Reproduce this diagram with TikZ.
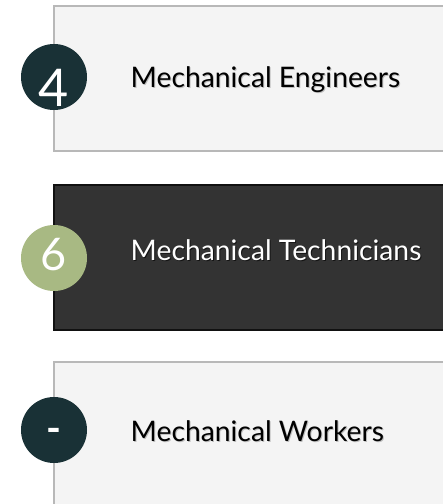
\documentclass[tikz,border=0pt]{standalone}
\usepackage{fontspec}
\setmainfont{Lato}
\definecolor{lightfill}{HTML}{F4F4F4}
\definecolor{lightedge}{HTML}{B8B8B8}
\definecolor{darkfill}{HTML}{333333}
\definecolor{darkedge}{HTML}{111111}
\definecolor{teal}{HTML}{193136}
\definecolor{sage}{HTML}{A8B983}
\tikzset{
  lightbox/.style={draw=lightedge, fill=lightfill, line width=2pt, rectangle, anchor=north west, inner sep=0pt, minimum width=420pt},
  darkbox/.style={draw=darkedge, fill=darkfill, line width=2pt, rectangle, anchor=north west, inner sep=0pt, minimum width=420pt},
  badge/.style={circle, inner sep=0pt, minimum size=66pt},
  digit/.style={text=white, inner sep=0pt, anchor=base},
  label/.style={inner sep=0pt, anchor=base west, font=\fontsize{28.3}{31}\selectfont},
}
\begin{document}
\begin{tikzpicture}[x=1pt,y=-1pt]
\useasboundingbox (0,0) rectangle (443,504);
\clip (0,0) rectangle (443,504);
\fill[white] (0,0) rectangle (443,504);
% boxes
\node[lightbox, minimum height=145pt] (box1) at (53,5) {};
\node[darkbox, minimum height=145pt] (box2) at (53,183.5) {};
\node[lightbox, minimum height=180pt] (box3) at (53,361) {};
% badges
\node[badge, fill=teal] (c1) at (54,77) {};
\node[badge, fill=sage] (c2) at (54,258) {};
\node[badge, fill=teal] (c3) at (54,430) {};
\node[digit, font=\fontsize{52}{56}\selectfont] (d1) at (54,106) {4};
\node[digit, font=\fontsize{45}{50}\selectfont] (d2) at (54,270) {6};
\node[digit, font=\fontsize{40}{44}\selectfont\bfseries] (d3) at (54,442) {-};
% labels with soft shadows
\node[label, text=black!40, opacity=0.6] (s1) at (131.5,88) {Mechanical Engineers};
\node[label, text=black] (t1) at (130.5,87) {Mechanical Engineers};
\node[label, text=black, opacity=0.6] (s2) at (131.5,261) {Mechanical Technicians};
\node[label, text=white] (t2) at (130.5,260) {Mechanical Technicians};
\node[label, text=black!40, opacity=0.6] (s3) at (131.5,442.5) {Mechanical Workers};
\node[label, text=black] (t3) at (130.5,441.5) {Mechanical Workers};
\end{tikzpicture}
\end{document}
